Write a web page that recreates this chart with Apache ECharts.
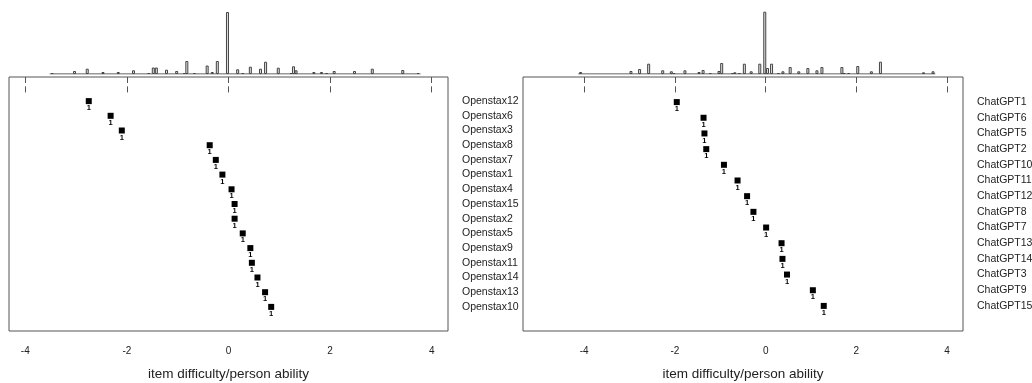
<!DOCTYPE html>
<html>
<head>
<meta charset="utf-8">
<script src="https://cdn.jsdelivr.net/npm/echarts@6/dist/echarts.min.js"></script>
<style>
html,body{margin:0;padding:0;background:#fff;}
#chart{width:1032px;height:383px;}
</style>
</head>
<body>
<div id="chart"></div>
<script>
// ---- data ----
const xTicks = [-4, -2, 0, 2, 4];
const axisTitle = 'item difficulty/person ability';

const leftItems = ['Openstax12','Openstax6','Openstax3','Openstax8','Openstax7','Openstax1','Openstax4','Openstax15','Openstax2','Openstax5','Openstax9','Openstax11','Openstax14','Openstax13','Openstax10'];
const leftDifficulty = [-2.75,-2.32,-2.10,-0.37,-0.25,-0.12,0.06,0.12,0.12,0.28,0.43,0.46,0.57,0.72,0.84];

const rightItems = ['ChatGPT1','ChatGPT6','ChatGPT5','ChatGPT2','ChatGPT10','ChatGPT11','ChatGPT12','ChatGPT8','ChatGPT7','ChatGPT13','ChatGPT14','ChatGPT3','ChatGPT9','ChatGPT15'];
const rightDifficulty = [-1.96,-1.37,-1.35,-1.31,-0.92,-0.62,-0.41,-0.27,0.01,0.35,0.37,0.47,1.04,1.28];

// person ability histograms (relative frequency)
const leftAbility = [-3.47,-3.03,-2.78,-2.47,-2.17,-1.87,-1.57,-1.48,-1.42,-1.22,-1.02,-0.87,-0.82,-0.67,-0.42,-0.32,-0.22,-0.02,0.18,0.28,0.43,0.63,0.73,0.98,1.23,1.28,1.33,1.68,1.83,1.93,2.08,2.48,2.83,3.43,3.73];
const leftFreq = [1,3,5.3,2,2,3.7,1,6.5,6.5,4.3,3,1,13,1,8.5,2,13,62,4.7,1,7.3,5.3,12.3,6.3,1,7.7,3.7,2,2,1,3,3,5.3,4,1];

const rightAbility = [-4.08,-2.97,-2.78,-2.58,-2.27,-2.08,-2.02,-1.78,-1.47,-1.38,-1.22,-1.03,-0.97,-0.73,-0.68,-0.58,-0.47,-0.32,-0.13,-0.02,0.04,0.13,0.28,0.38,0.54,0.73,0.93,1.13,1.24,1.68,1.73,1.83,2.03,2.33,2.53,3.48,3.69];
const rightFreq = [2,3,5,10.3,3.7,2.7,1,3.7,2,4,1,3,11,1,1.7,1,10.3,2.7,10.3,62.3,6,10.3,1,2.7,7,2.7,6,3.7,7,7,1,1,8,2.7,12.3,1.7,2.7];

const leftRange = [-4.32, 4.32];
const rightRange = [-5.35, 4.35];

// ---- chart ----
const FONT = 'Liberation Sans, Arial, sans-serif';
const BOX = '#555';
const TXT = '#222';

const panels = [
  {items: leftItems, diff: leftDifficulty, ab: leftAbility, fr: leftFreq, range: leftRange, left: 9, right: 1032 - 448},
  {items: rightItems, diff: rightDifficulty, ab: rightAbility, fr: rightFreq, range: rightRange, left: 523, right: 1032 - 963}
];

const grid = [], xAxis = [], yAxis = [], series = [];
panels.forEach((p, k) => {
  const n = p.items.length;
  const ext = 0.04 * (n + 1);
  grid.push({left: p.left, right: p.right, top: 77, bottom: 383 - 331, show: true,
    borderColor: BOX, borderWidth: 1, backgroundColor: 'transparent',
    outerBoundsMode: 'none', containLabel: false});
  grid.push({left: p.left, right: p.right, top: 11, height: 63, show: false,
    outerBoundsMode: 'none', containLabel: false});
  const gMain = 2 * k, gHist = 2 * k + 1;
  xAxis.push({type: 'value', gridIndex: gMain, position: 'bottom', min: p.range[0], max: p.range[1],
    splitLine: {show: false}, axisLine: {show: false},
    axisTick: {show: true, customValues: xTicks, length: 6, lineStyle: {color: BOX}},
    axisLabel: {show: true, customValues: xTicks, margin: 15, fontSize: 10, color: TXT, fontFamily: FONT},
    name: axisTitle, nameLocation: 'middle', nameGap: 36,
    nameTextStyle: {fontSize: 13.5, color: TXT, fontFamily: FONT}});
  xAxis.push({type: 'value', gridIndex: gMain, position: 'top', min: p.range[0], max: p.range[1],
    splitLine: {show: false}, axisLine: {show: false},
    axisTick: {show: true, inside: true, customValues: xTicks, length: 6, lineStyle: {color: BOX}},
    axisLabel: {show: false, customValues: xTicks}});
  xAxis.push({type: 'value', gridIndex: gHist, min: p.range[0], max: p.range[1], show: false});
  const xMainIdx = 3 * k, xHistIdx = 3 * k + 2;
  yAxis.push({type: 'value', gridIndex: gMain, inverse: true, min: -ext, max: n + 1 + ext, position: 'right',
    splitLine: {show: false}, axisLine: {show: false}, axisTick: {show: false},
    axisLabel: {show: true, customValues: p.items.map((_, i) => i + 1), margin: 14, fontSize: 10.5,
      color: TXT, fontFamily: FONT, align: 'left',
      formatter: v => p.items[Math.round(v) - 1] || ''}});
  yAxis.push({type: 'value', gridIndex: gHist, min: 0, max: 63, show: false});
  const yMainIdx = 2 * k, yHistIdx = 2 * k + 1;

  series.push({type: 'scatter', xAxisIndex: xMainIdx, yAxisIndex: yMainIdx,
    data: p.diff.map((d, i) => [d, i + 1]), symbol: 'rect', symbolSize: 6,
    itemStyle: {color: '#000', opacity: 1},
    label: {show: true, position: 'bottom', distance: 0, formatter: '1', fontSize: 7.5,
      fontWeight: 'bold', color: '#000', fontFamily: FONT},
    silent: true, animation: false});
  const amin = Math.min(...p.ab), amax = Math.max(...p.ab);
  series.push({type: 'line', xAxisIndex: xHistIdx, yAxisIndex: yHistIdx,
    data: [[amin - 0.05, 0], [amax + 0.05, 0]], symbol: 'none',
    lineStyle: {color: '#333', width: 1}, z: 1, silent: true, animation: false});
  series.push({type: 'bar', xAxisIndex: xHistIdx, yAxisIndex: yHistIdx,
    data: p.ab.map((a, i) => [a, p.fr[i]]), barWidth: 3,
    itemStyle: {color: '#e0e0e0', borderColor: '#444', borderWidth: 1},
    z: 2, silent: true, animation: false});
});

const chart = echarts.init(document.getElementById('chart'), null, {renderer: 'canvas'});
chart.setOption({animation: false, backgroundColor: '#fff', grid, xAxis, yAxis, series,
  textStyle: {fontFamily: FONT}});
</script>
</body>
</html>
